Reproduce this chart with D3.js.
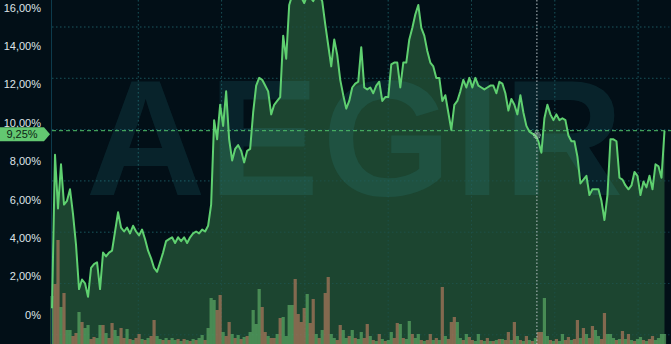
<!DOCTYPE html>
<html>
<head>
<meta charset="utf-8">
<script src="https://cdn.jsdelivr.net/npm/d3@7"></script>
<style>
  html, body { margin: 0; padding: 0; background: #020f17; }
  svg { display: block; font-family: "Liberation Sans", Arial, sans-serif; }
</style>
</head>
<body>
<svg id="chart" width="671" height="344"></svg>
<script>
// yield series (%), one point per day
let yieldValues = [
  0.0, 8.0, 5.2, 7.5, 5.4, 5.6, 6.2, 4.9, 3.3, 1.0,
  1.5, 1.3, 0.6, 2.1, 2.3, 2.4, 1.0, 2.9, 2.7, 2.9,
  3.0, 4.0, 5.0, 4.2, 4.0, 4.2, 3.9, 4.3, 4.0, 3.8,
  4.1, 3.6, 3.0, 2.6, 2.1, 1.9, 2.4, 2.9, 3.5, 3.6,
  3.7, 3.4, 3.7, 3.5, 3.7, 3.4, 3.7, 3.9, 4.0, 3.9,
  4.1, 4.0, 4.3, 5.4, 9.8, 8.8, 10.6, 9.5, 11.3, 8.8,
  7.7, 8.3, 8.5, 8.2, 7.6, 8.2, 8.3, 10.2, 11.6, 12.0,
  11.9, 11.6, 11.3, 10.1, 10.6, 10.8, 11.0, 14.2, 13.0, 15.8,
  16.3, 16.3, 16.3, 16.2, 15.9, 16.3, 16.2, 16.0, 16.3, 16.3,
  16.0, 14.8, 13.7, 12.6, 14.0, 13.2, 11.9, 11.1, 10.4, 10.8,
  11.5, 11.7, 11.8, 13.6, 11.5, 11.4, 11.5, 11.2, 11.6, 11.8,
  10.8, 11.0, 11.0, 12.7, 12.8, 12.8, 11.5, 12.8, 12.8, 14.0,
  14.6, 15.3, 15.8, 14.6, 14.2, 13.4, 12.8, 12.6, 12.0, 12.0,
  10.8, 11.1, 10.2, 9.3, 10.6, 10.8, 11.3, 11.9, 11.5, 12.0,
  11.5, 12.0, 11.6, 11.5, 11.4, 11.5, 11.6, 11.6, 11.2, 11.8,
  11.7, 11.2, 10.3, 10.9, 10.6, 10.1, 11.1, 10.2, 9.5, 9.2,
  9.1, 9.0, 8.7, 8.1, 9.9, 10.6, 10.1, 9.8, 10.1, 9.8,
  9.9, 9.8, 9.0, 8.7, 8.7, 7.9, 6.5, 6.7, 6.9, 5.9,
  6.2, 6.2, 6.2, 5.6, 4.6, 5.9, 8.8, 8.8, 8.7, 6.8,
  6.7, 6.4, 6.2, 6.4, 7.1, 6.9, 5.9, 6.6, 6.3, 6.9,
  6.2, 7.5, 7.4, 6.8, 9.25
];

// volume per day and whether the day closed up (1) or down (0)
let volumes = [
  48, 60, 104, 37, 51, 14, 14, 8, 11, 32,
  22, 16, 19, 5, 7, 6, 19, 19, 11, 6,
  21, 14, 8, 16, 6, 15, 5, 4, 6, 10,
  5, 4, 6, 8, 24, 8, 5, 4, 6, 4,
  6, 4, 5, 3, 5, 4, 3, 5, 4, 6,
  9, 4, 16, 46, 44, 34, 49, 12, 8, 22,
  10, 6, 9, 5, 7, 8, 12, 34, 20, 55,
  37, 12, 8, 6, 6, 10, 26, 27, 8, 39,
  39, 65, 30, 22, 36, 50, 21, 45, 10, 6,
  14, 51, 67, 10, 6, 4, 19, 14, 6, 8,
  14, 6, 5, 12, 6, 20, 8, 4, 3, 10,
  5, 3, 4, 12, 6, 21, 20, 6, 5, 23,
  10, 6, 10, 4, 3, 4, 10, 4, 6, 4,
  57, 8, 5, 22, 27, 22, 6, 4, 10, 7,
  4, 3, 10, 4, 3, 6, 3, 3, 4, 5,
  5, 4, 12, 4, 22, 8, 4, 3, 8, 4,
  3, 6, 12, 12, 46, 8, 4, 3, 5, 3,
  10, 4, 7, 4, 5, 24, 6, 16, 10, 6,
  18, 14, 8, 5, 31, 10, 10, 6, 4, 5,
  13, 5, 10, 4, 3, 5, 7, 4, 3, 5,
  8, 4, 6, 10, 10
];
let volumeUp = [
  1, 0, 0, 1, 0, 1, 1, 0, 0, 1,
  0, 1, 1, 0, 0, 1, 1, 0, 1, 0,
  0, 1, 1, 0, 0, 1, 0, 1, 0, 0,
  1, 0, 1, 0, 0, 1, 1, 0, 1, 0,
  1, 1, 0, 1, 0, 1, 0, 1, 0, 1,
  1, 0, 1, 1, 1, 0, 0, 1, 0, 0,
  1, 0, 1, 0, 1, 0, 1, 1, 1, 1,
  0, 0, 1, 0, 0, 1, 0, 1, 1, 1,
  1, 0, 0, 0, 0, 1, 0, 0, 1, 0,
  1, 0, 0, 1, 1, 0, 0, 1, 1, 0,
  1, 0, 1, 1, 0, 0, 1, 0, 1, 0,
  1, 0, 1, 1, 0, 0, 1, 0, 1, 1,
  0, 1, 1, 0, 1, 0, 0, 1, 0, 1,
  0, 1, 0, 0, 0, 1, 1, 0, 1, 0,
  0, 1, 1, 0, 1, 0, 1, 0, 1, 0,
  1, 0, 0, 1, 0, 1, 0, 1, 0, 1,
  0, 1, 0, 0, 1, 1, 0, 1, 0, 1,
  1, 0, 0, 1, 0, 0, 1, 0, 1, 0,
  0, 1, 1, 0, 0, 1, 1, 1, 0, 1,
  0, 1, 0, 1, 0, 1, 1, 0, 1, 0,
  0, 1, 1, 1, 1
];

let yTicks = [0, 2, 4, 6, 8, 10, 12, 14, 16];
let lastValue = 9.25;
let crosshairIndex = 162;

let svg = d3.select("#chart"),
    width = +svg.attr("width"),
    height = +svg.attr("height");
let left = 52, right = 664.5;

let x = d3.scaleLinear()
          .domain([0, yieldValues.length - 1])
          .range([left, right]);
let y = d3.scaleLinear()
          .domain([0, 16])
          .range([308.3, 1.1]);
let yVol = d3.scaleLinear()
          .domain([0, 104])
          .range([height, height - 104]);

let fmt = function(d) {
  if (d === 0) { return "0%"; }
  return d.toFixed(2).replace(".", ",") + "%";
};

// grid (dotted, evenly spaced like the source chart)
let grid = svg.append("g").attr("class", "grid");
d3.range(27, height, 51.3).forEach(function(gy) {
  grid.append("line")
      .attr("x1", left).attr("x2", width)
      .attr("y1", gy).attr("y2", gy)
      .attr("stroke", "#0f3a48")
      .attr("stroke-dasharray", "1.5,2.5");
});
d3.range(138.3, width, 83.3).forEach(function(gx) {
  grid.append("line")
      .attr("x1", gx).attr("x2", gx)
      .attr("y1", 0).attr("y2", height)
      .attr("stroke", "#0f3a48")
      .attr("stroke-dasharray", "1.5,2.5");
});

// area under the line
let area = d3.area()
             .x(function(d, i) { return x(i); })
             .y0(height)
             .y1(function(d) { return y(d); });
svg.append("path")
   .datum(yieldValues)
   .attr("d", area)
   .attr("fill", "#1c4530");

// grid shows faintly through the fill
let grid2 = svg.append("g").attr("opacity", 0.55);
d3.range(27, height, 51.3).forEach(function(gy) {
  grid2.append("line")
      .attr("x1", left).attr("x2", right)
      .attr("y1", gy).attr("y2", gy)
      .attr("stroke", "#1f5a5a")
      .attr("stroke-dasharray", "1.5,2.5");
});
d3.range(138.3, right, 83.3).forEach(function(gx) {
  grid2.append("line")
      .attr("x1", gx).attr("x2", gx)
      .attr("y1", 0).attr("y2", height)
      .attr("stroke", "#1f5a5a")
      .attr("stroke-dasharray", "1.5,2.5");
});

// watermark
svg.append("text")
   .attr("x", 356)
   .attr("y", 195)
   .attr("text-anchor", "middle")
   .attr("font-size", 166)
   .attr("font-weight", "bold")
   .attr("letter-spacing", 3)
   .attr("fill", "rgba(50,160,170,0.14)")
   .text("AEGIR");

// volume bars
svg.append("g")
   .selectAll("rect")
   .data(volumes)
   .enter()
   .append("rect")
   .attr("x", function(d, i) { return x(i) - 1.6; })
   .attr("width", 3.2)
   .attr("y", function(d) { return yVol(d); })
   .attr("height", function(d) { return height - yVol(d); })
   .attr("fill", function(d, i) {
     return volumeUp[i] ? "rgba(105,190,110,0.58)" : "rgba(200,130,100,0.6)";
   });

// y axis line
svg.append("line")
   .attr("x1", left - 0.5).attr("x2", left - 0.5)
   .attr("y1", 0).attr("y2", height)
   .attr("stroke", "#0d3b4c");

// y axis labels
let yAxis = d3.axisLeft(y)
              .tickValues(yTicks)
              .tickFormat(fmt)
              .tickSize(0)
              .tickPadding(0);
let ax = svg.append("g")
            .attr("transform", "translate(41,6.4)")
            .call(yAxis);
ax.select(".domain").remove();
ax.selectAll("text")
  .attr("fill", "#dfe4e8")
  .attr("font-size", 11)
  .attr("font-family", "'Liberation Sans', Arial, sans-serif");

// last value line
svg.append("line")
   .attr("x1", left).attr("x2", width)
   .attr("y1", y(lastValue)).attr("y2", y(lastValue))
   .attr("stroke", "#4fc06a")
   .attr("stroke-dasharray", "4,3");

// crosshair
svg.append("line")
   .attr("x1", x(crosshairIndex) - 1.5).attr("x2", x(crosshairIndex) - 1.5)
   .attr("y1", 0).attr("y2", height)
   .attr("stroke", "#b9c2c6")
   .attr("stroke-dasharray", "1.5,2");

// the line itself
let line = d3.line()
             .x(function(d, i) { return x(i); })
             .y(function(d) { return y(d); });
svg.append("path")
   .datum(yieldValues)
   .attr("d", line)
   .attr("fill", "none")
   .attr("stroke", "#5fd070")
   .attr("stroke-width", 2)
   .attr("stroke-linejoin", "round");

svg.append("circle")
   .attr("cx", x(crosshairIndex) - 1.5)
   .attr("cy", y(yieldValues[crosshairIndex]) - 6)
   .attr("r", 3.5)
   .attr("fill", "rgba(200,230,200,0.35)")
   .attr("stroke", "rgba(220,240,220,0.6)")
   .attr("stroke-dasharray", "1,1");

// price tag on the axis
let ty = y(lastValue) + 3.5;
svg.append("path")
   .attr("d", "M0," + (ty - 7) + "H44L50," + ty + "L44," + (ty + 7) + "H0Z")
   .attr("fill", "#63c871");
svg.append("text")
   .attr("x", 22)
   .attr("y", ty)
   .attr("dy", "0.35em")
   .attr("text-anchor", "middle")
   .attr("font-size", 11)
   .attr("fill", "#0c2414")
   .text(fmt(lastValue));
</script>
</body>
</html>
